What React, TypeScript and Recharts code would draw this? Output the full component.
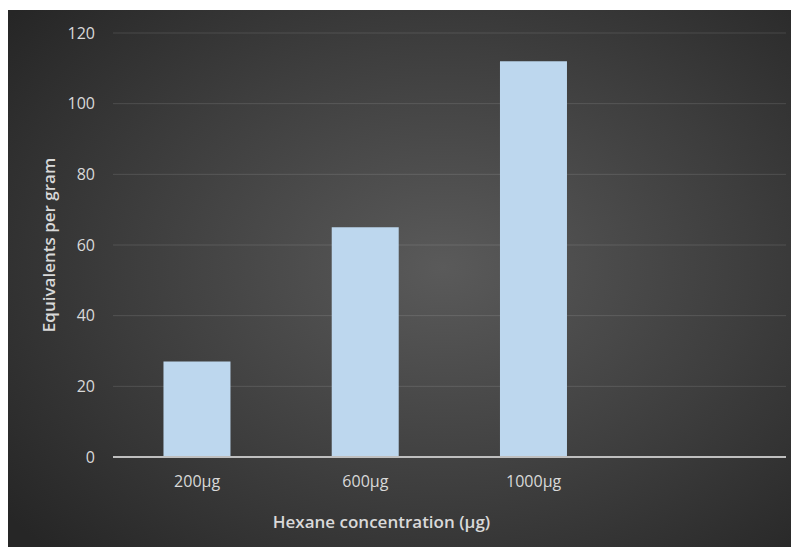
import React from 'react';
import {
  BarChart,
  Bar,
  XAxis,
  YAxis,
  CartesianGrid,
  Label,
} from 'recharts';

// Values
const categories = ['200µg', '600µg', '1000µg', ''];
const equivalents: (number | null)[] = [27, 65, 112, null];
const yTicks = [0, 20, 40, 60, 80, 100, 120];

const chartData = categories.map((name, i) => ({
  name,
  value: equivalents[i],
}));

const FONT = '"Open Sans", "Liberation Sans", sans-serif';
const TEXT = '#d9d9d9';

const App: React.FC = () => {
  return (
    <div
      style={{
        marginTop: 2,
        width: 791,
        height: 537,
        background:
          'radial-gradient(ellipse 70% 75% at 55% 48%, #5a5a5a 0%, #3e3e3e 55%, #262626 100%)',
        fontFamily: FONT,
      }}
    >
      <BarChart
        width={791}
        height={537}
        data={chartData}
        margin={{ top: 23, right: 13, left: 45, bottom: 40 }}
        barCategoryGap="30%"
      >
        <CartesianGrid
          vertical={false}
          stroke="rgba(255,255,255,0.12)"
          strokeWidth={1}
        />
        <XAxis
          dataKey="name"
          height={50}
          tickLine={false}
          axisLine={{ stroke: '#bfbfbf', strokeWidth: 2 }}
          tick={{ fill: TEXT, fontSize: 16, fontFamily: FONT }}
          tickMargin={13}
        >
          <Label
            value="Hexane concentration (µg)"
            position="insideBottom"
            offset={-21}
            dx={-68}
            style={{ fill: TEXT, fontSize: 17, fontWeight: 600, fontFamily: FONT }}
          />
        </XAxis>
        <YAxis
          width={60}
          domain={[0, 120]}
          ticks={yTicks}
          tickLine={false}
          axisLine={false}
          tick={{ fill: TEXT, fontSize: 16, fontFamily: FONT }}
          tickMargin={12}
        >
          <Label
            value="Equivalents per gram"
            angle={-90}
            position="insideLeft"
            offset={-4}
            style={{ textAnchor: 'middle', fill: TEXT, fontSize: 17, fontWeight: 600, fontFamily: FONT }}
          />
        </YAxis>
        <Bar dataKey="value" fill="#bdd7ee" isAnimationActive={false} />
      </BarChart>
    </div>
  );
};

export default App;
